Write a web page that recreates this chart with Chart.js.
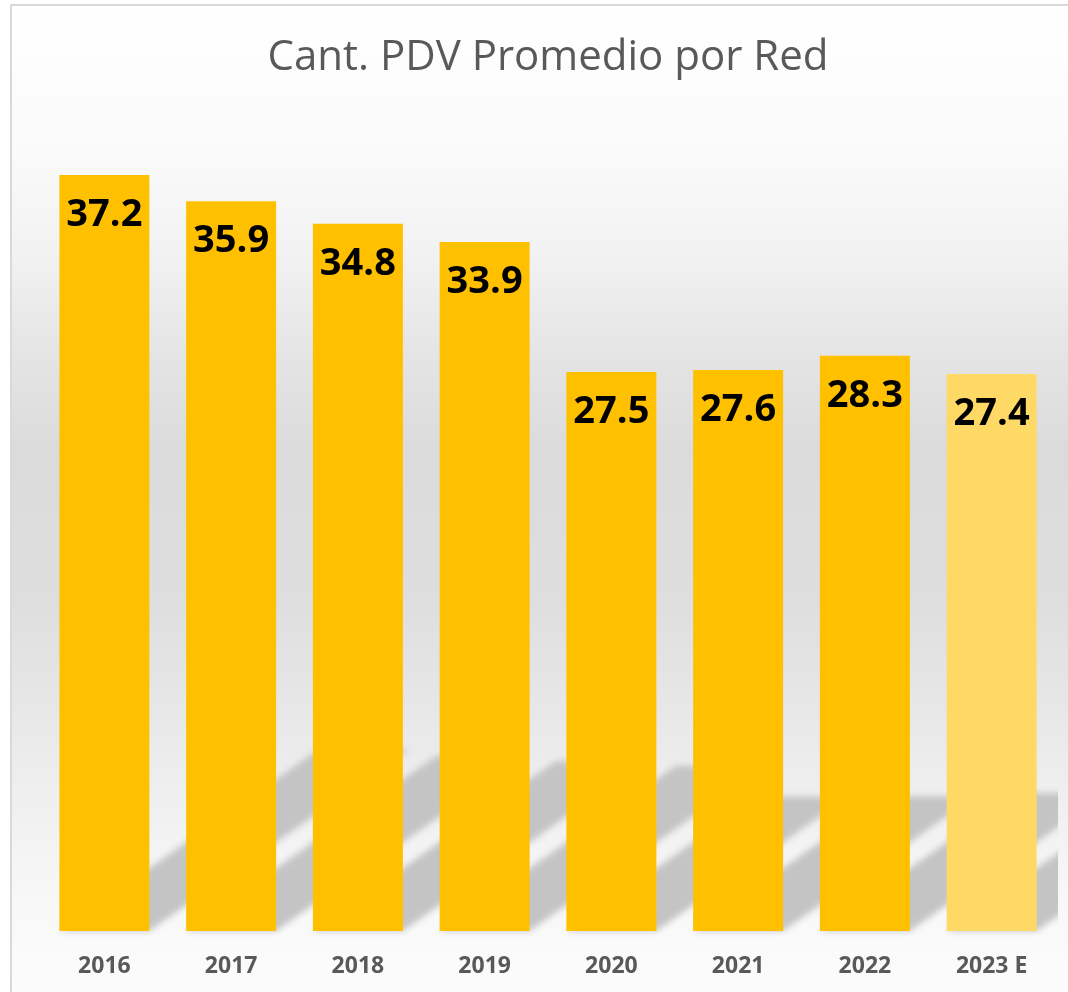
<!DOCTYPE html>
<html>
<head>
<meta charset="utf-8">
<script src="https://cdn.jsdelivr.net/npm/chart.js@4"></script>
<style>
  html, body { margin: 0; padding: 0; background: #ffffff; }
  #wrap { width: 1068px; height: 992px; }
</style>
</head>
<body>
<div id="wrap"><canvas id="c" width="1068" height="992"></canvas></div>
<script>
const categories = ["2016", "2017", "2018", "2019", "2020", "2021", "2022", "2023 E"];
const values = [37.2, 35.9, 34.8, 33.9, 27.5, 27.6, 28.3, 27.4];
const barColors = ["#FFC000", "#FFC000", "#FFC000", "#FFC000", "#FFC000", "#FFC000", "#FFC000", "#FFD966"];
const titleText = "Cant. PDV Promedio por Red";

const backgroundPlugin = {
  id: "bgFrame",
  beforeDraw(chart) {
    const ctx = chart.ctx;
    const W = chart.width, H = chart.height;
    ctx.save();
    ctx.fillStyle = "#ffffff";
    ctx.fillRect(0, 0, W, H);
    const g = ctx.createLinearGradient(0, 5, 0, H);
    g.addColorStop(0.0, "#ffffff");
    g.addColorStop(0.15, "#fafafa");
    g.addColorStop(0.25, "#f2f2f2");
    g.addColorStop(0.35, "#e5e5e5");
    g.addColorStop(0.45, "#dbdbdb");
    g.addColorStop(0.60, "#dedede");
    g.addColorStop(0.70, "#e6e6e6");
    g.addColorStop(0.80, "#efefef");
    g.addColorStop(0.91, "#f8f8f8");
    g.addColorStop(1.0, "#fcfcfc");
    ctx.fillStyle = g;
    ctx.fillRect(12, 6, W - 12, H - 6);
    ctx.strokeStyle = "#d9d9d9";
    ctx.lineWidth = 2;
    ctx.beginPath();
    ctx.moveTo(11, H);
    ctx.lineTo(11, 5);
    ctx.lineTo(W, 5);
    ctx.stroke();
    ctx.restore();
  }
};

const shadowPlugin = {
  id: "barShadow",
  beforeDatasetsDraw(chart) {
    const ctx = chart.ctx;
    const meta = chart.getDatasetMeta(0);
    ctx.save();
    ctx.beginPath();
    ctx.rect(0, 0, 1058, chart.height);
    ctx.clip();
    ctx.filter = "blur(3px)";
    ctx.fillStyle = "#c4c4c4";
    meta.data.forEach(bar => {
      const p = bar.getProps(["x", "y", "base", "width"], true);
      const h = p.base - p.y;
      const sh = 0.24 * h;
      const dx = sh / 0.7;
      const x0 = p.x - p.width / 2, x1 = p.x + p.width / 2;
      ctx.beginPath();
      ctx.moveTo(x0, p.base);
      ctx.lineTo(x1, p.base);
      ctx.lineTo(x1 + dx, p.base - sh);
      ctx.lineTo(x0 + dx, p.base - sh);
      ctx.closePath();
      ctx.fill();
    });
    ctx.restore();
  }
};

const labelPlugin = {
  id: "barLabels",
  afterDatasetsDraw(chart) {
    const ctx = chart.ctx;
    const meta = chart.getDatasetMeta(0);
    ctx.save();
    ctx.font = "bold 38px 'Open Sans'";
    ctx.fillStyle = "#000000";
    ctx.textAlign = "center";
    ctx.textBaseline = "middle";
    meta.data.forEach((bar, i) => {
      const p = bar.getProps(["x", "y"], true);
      ctx.fillText(values[i].toFixed(1), p.x, p.y + 40);
    });
    ctx.restore();
  }
};

new Chart(document.getElementById("c"), {
  type: "bar",
  data: {
    labels: categories,
    datasets: [{
      data: values,
      backgroundColor: barColors,
      borderWidth: 0,
      categoryPercentage: 1.0,
      barPercentage: 0.71
    }]
  },
  options: {
    responsive: false,
    animation: false,
    devicePixelRatio: 1,
    layout: { padding: { left: 41, right: 13, top: 0, bottom: 12 } },
    plugins: {
      legend: { display: false },
      tooltip: { enabled: false },
      title: {
        display: true,
        text: titleText,
        color: "#595959",
        font: { family: "'Open Sans'", size: 42, weight: "normal", lineHeight: 1.2 },
        padding: { top: 33, bottom: 34.6 }
      }
    },
    scales: {
      x: {
        grid: { display: false, drawTicks: false },
        border: { display: false },
        ticks: {
          color: "#595959",
          font: { family: "'Open Sans'", size: 23, weight: "bold", lineHeight: 1.2 },
          padding: 22,
          maxRotation: 0
        },
        afterFit(scale) { scale.height = 49; }
      },
      y: {
        display: false,
        min: 0,
        max: 40
      }
    }
  },
  plugins: [backgroundPlugin, shadowPlugin, labelPlugin]
});
</script>
</body>
</html>
